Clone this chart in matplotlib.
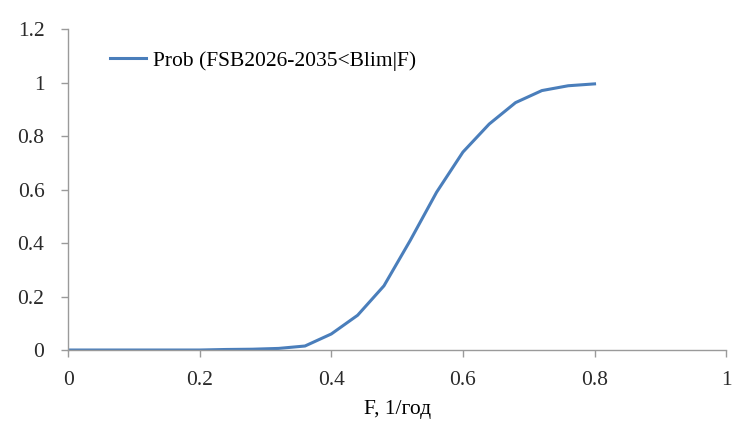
import numpy as np
import matplotlib
matplotlib.use("Agg")
import matplotlib.pyplot as plt

# F values (1/year) and probability
f_values = [0.0, 0.04, 0.08, 0.12, 0.16, 0.20, 0.24, 0.28, 0.32, 0.36, 0.40,
            0.44, 0.48, 0.52, 0.56, 0.60, 0.64, 0.68, 0.72, 0.76, 0.80]
prob = [0.0, 0.0, 0.0, 0.0, 0.0, 0.0, 0.002, 0.003, 0.006, 0.015, 0.06,
        0.13, 0.24, 0.41, 0.59, 0.74, 0.845, 0.925, 0.97, 0.988, 0.995]

x_ticks = [0, 0.2, 0.4, 0.6, 0.8, 1]
x_ticklabels = ['0', '0.2', '0.4', '0.6', '0.8', '1']
y_ticks = [0, 0.2, 0.4, 0.6, 0.8, 1, 1.2]
y_ticklabels = ['0', '0.2', '0.4', '0.6', '0.8', '1', '1.2']

plt.rcParams['font.family'] = ['Liberation Serif', 'DejaVu Serif']
plt.rc('font', size=15.5)

fig = plt.figure(figsize=(7.32, 4.21), dpi=100)
ax = fig.add_axes([0.093, 0.1686, 0.899, 0.7624])

ax.plot(f_values, prob, color='#4a7ebb', linewidth=2.2,
        label='Prob (FSB2026-2035<Blim|F)')

ax.set_xlim(0, 1)
ax.set_ylim(0, 1.2)
ax.set_xticks(x_ticks)
ax.set_xticklabels(x_ticklabels)
ax.set_yticks(y_ticks)
ax.set_yticklabels(y_ticklabels)
ax.set_xlabel('F, 1/год', labelpad=7)

for side in ['top', 'right']:
    ax.spines[side].set_visible(False)
for side in ['left', 'bottom']:
    ax.spines[side].set_color('#9a9a9a')
    ax.spines[side].set_linewidth(1.0)
ax.tick_params(axis='both', colors='#9a9a9a', labelcolor='#2a2a2a',
               length=5, width=1.0, direction='out')
ax.tick_params(axis='y', pad=12)
ax.tick_params(axis='x', pad=10)

ax.legend(loc='upper left', bbox_to_anchor=(0.05, 0.96), frameon=False,
          handlelength=1.7, handletextpad=0.3, borderaxespad=0)

fig.savefig('out.png', dpi=100)
